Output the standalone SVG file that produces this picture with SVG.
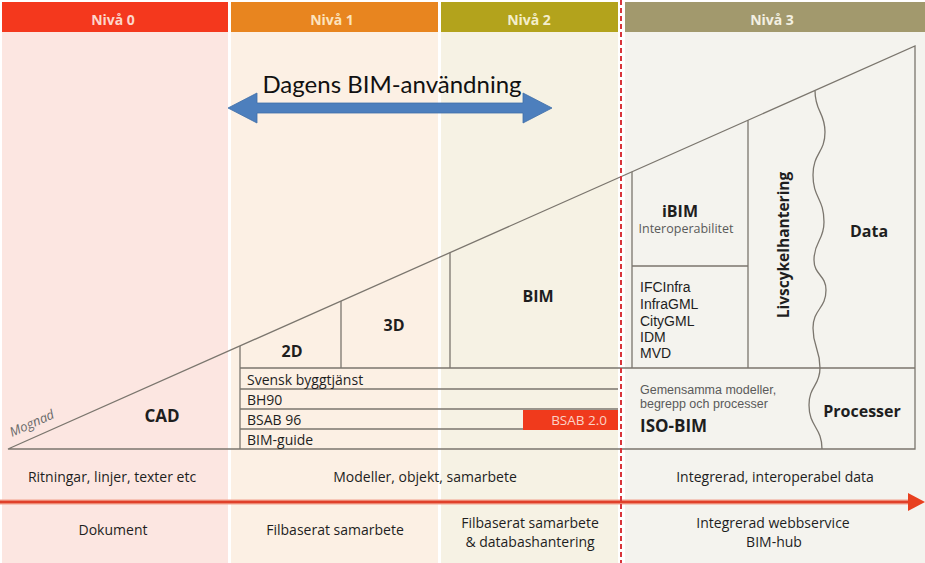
<svg xmlns="http://www.w3.org/2000/svg" width="925" height="563" viewBox="0 0 925 563">
<style>
.t{font-family:"Open Sans","Liberation Sans",sans-serif;fill:#1e1e1e;font-size:14px}
.s{font-family:"Liberation Sans","Open Sans",sans-serif}
.b{font-weight:700;font-size:16px}
.g{fill:#5a5a5a;font-size:12.5px}
.c{text-anchor:middle}
.h{font-family:"Open Sans","Liberation Sans",sans-serif;font-weight:700;font-size:14px;text-anchor:middle}
.ln{stroke:#7b766e;stroke-width:1.3;fill:none}
</style>
<rect width="925" height="563" fill="#ffffff"/>
<g id="columns">
<rect x="2" y="32" width="226" height="531" fill="#fce6e1"/>
<rect x="231" y="32" width="207" height="531" fill="#fcf0e4"/>
<rect x="441" y="32" width="177" height="531" fill="#f6f2e4"/>
<rect x="625" y="32" width="300" height="531" fill="#f4f3ee"/>
</g>
<g id="headers">
<rect x="2" y="2" width="226" height="30" fill="#f4381d"/>
<text class="h" x="113" y="25" fill="#fcd6cb">Nivå 0</text>
<rect x="231" y="2" width="207" height="30" fill="#e8851f"/>
<text class="h" x="332" y="25" fill="#fce3bd">Nivå 1</text>
<rect x="441" y="2" width="177" height="30" fill="#b3a31c"/>
<text class="h" x="529" y="25" fill="#f3eecb">Nivå 2</text>
<rect x="625" y="2" width="300" height="30" fill="#a2996d"/>
<text class="h" x="772" y="25" fill="#f3f0e2">Nivå 3</text>
</g>
<g id="triangle">
<path class="ln" d="M8,449 L915,46 L915,449 Z"/>
<path class="ln" d="M240,345.9 V449 M341,301 V368 M450,252.6 V368 M632,171.8 V368 M748,120.2 V368 M632,266 H748 M240,368 H915 M240,389 H618 M240,409 H618 M240,429 H618"/>
<path class="ln" d="M815,90.4 C815,112 825,112 825,132 C825,153 813,153 813,175 C813,198 824,198 824,222 C824,241 814,241 814,260 C814,275 826,275 826,290 C826,309 813,309 813,328 C813,348 820,348 820,368 C820,386 809,386 809,405 C809,427 822,427 822,449"/>
</g>
<g id="cad"><text class="t b c" x="162" y="422" style="font-size:17px">CAD</text>
<text class="t" x="12" y="437" transform="rotate(-24 12 437)" style="font-style:italic;font-size:13px;fill:#6a6a6a">Mognad</text></g>
<g id="n2d"><text class="t b c" x="292" y="357">2D</text></g>
<g id="n3d"><text class="t b c" x="394" y="331">3D</text></g>
<g id="bim"><text class="t b c" x="538" y="302">BIM</text></g>
<g id="ibim"><text class="t b c" x="680" y="217">iBIM</text>
<text class="t g c" x="686" y="233">Interoperabilitet</text></g>
<g id="standards">
<text class="t s" x="640" y="292">IFCInfra</text>
<text class="t s" x="640" y="309">InfraGML</text>
<text class="t s" x="640" y="326">CityGML</text>
<text class="t s" x="640" y="342">IDM</text>
<text class="t s" x="640" y="358">MVD</text>
</g>
<g id="livscykel"><text class="t b c" x="789" y="245" transform="rotate(-90 789 245)" style="font-size:15.5px">Livscykelhantering</text></g>
<g id="data"><text class="t b c" x="869" y="237">Data</text></g>
<g id="rows">
<text class="t" x="247" y="385">Svensk byggtjänst</text>
<text class="t" x="247" y="405">BH90</text>
<text class="t" x="247" y="425">BSAB 96</text>
<text class="t" x="247" y="445">BIM-guide</text>
</g>
<g id="bsab20"><rect x="523" y="410" width="95" height="20" fill="#f03a1c"/>
<text class="t" x="607" y="425" style="fill:#fbd2c6;font-size:13.5px;text-anchor:end">BSAB 2.0</text></g>
<g id="isobim">
<text class="t s g" x="640" y="394">Gemensamma  modeller,</text>
<text class="t s g" x="640" y="408">begrepp och processer</text>
<text class="t b" x="640" y="432" style="font-size:17px">ISO-BIM</text>
</g>
<g id="processer"><text class="t b c" x="862" y="417">Processer</text></g>
<g id="dagens"><text x="392" y="93" style="font-family:Lato,'Open Sans',sans-serif;font-size:24px;fill:#111;text-anchor:middle">Dagens BIM-användning</text></g>
<g id="bottom">
<text class="t c" x="112" y="482">Ritningar, linjer, texter etc</text>
<text class="t c" x="425" y="482">Modeller, objekt, samarbete</text>
<text class="t c" x="775" y="482">Integrerad, interoperabel data</text>
<text class="t c" x="113" y="535">Dokument</text>
<text class="t c" x="335" y="535">Filbaserat samarbete</text>
<text class="t c" x="530" y="528">Filbaserat samarbete</text>
<text class="t c" x="530" y="547">&amp; databashantering</text>
<text class="t c" x="773" y="528">Integrerad webbservice</text>
<text class="t c" x="774" y="547">BIM-hub</text>
</g>
<g id="connectors">
<polygon points="228,108 257,93 257,103 523,103 523,93 552,108 523,123 523,113 257,113 257,123" fill="#4d7fbd" stroke="#3f6ea8" stroke-width="0.8"/>
<line x1="0" y1="502" x2="912" y2="502" stroke="#f2a08c" stroke-width="5"/>
<line x1="0" y1="502" x2="912" y2="502" stroke="#e0402a" stroke-width="2.5"/>
<polygon points="908,493 925,502 908,511" fill="#e8401f"/>
<line x1="621" y1="0" x2="621" y2="563" stroke="#d8343a" stroke-width="2" stroke-dasharray="5 3"/>
</g>
</svg>
